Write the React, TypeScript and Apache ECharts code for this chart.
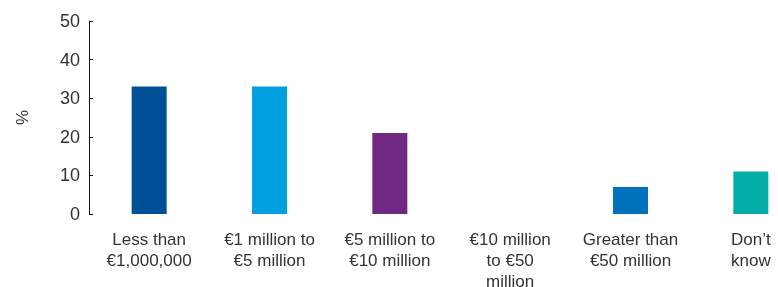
import React, { useEffect, useRef } from "react";
import * as echarts from "echarts";

const categories = [
  "Less than\n€1,000,000",
  "€1 million to\n€5 million",
  "€5 million to\n€10 million",
  "€10 million\nto €50\nmillion",
  "Greater than\n€50 million",
  "Don’t\nknow",
];
const values = [33, 33, 21, 0, 7, 11];
const barColors = ["#005098", "#009FDF", "#702882", "#0072BC", "#0072BC", "#00AEA7"];
const yTicks = [0, 10, 20, 30, 40, 50];

export default function App() {
  const ref = useRef<HTMLDivElement>(null);
  useEffect(() => {
    if (!ref.current) return;
    const chart = echarts.init(ref.current, null, { renderer: "svg" });
    chart.setOption({
      animation: false,
      textStyle: { fontFamily: "Liberation Sans, Arial, sans-serif" },
      grid: {
        left: 89,
        top: 21,
        width: 722,
        height: 193,
        containLabel: false,
        outerBoundsMode: "none",
      },
      xAxis: {
        type: "category",
        data: categories,
        axisLine: { show: false },
        axisTick: { show: false },
        axisLabel: {
          color: "#333",
          fontSize: 17,
          lineHeight: 21,
          margin: 15,
          interval: 0,
        },
      },
      yAxis: {
        type: "value",
        min: yTicks[0],
        max: yTicks[yTicks.length - 1],
        interval: 10,
        name: "%",
        nameLocation: "middle",
        nameGap: 58,
        nameTextStyle: { color: "#333", fontSize: 17 },
        splitLine: { show: false },
        axisLine: { show: true, lineStyle: { color: "#111", width: 1 } },
        axisTick: { show: true, inside: true, length: 4, lineStyle: { color: "#111" } },
        axisLabel: { color: "#333", fontSize: 18, margin: 9 },
      },
      series: [
        {
          type: "bar",
          barWidth: 35,
          data: values.map((v, i) => ({ value: v, itemStyle: { color: barColors[i] } })),
        },
      ],
    });
    return () => chart.dispose();
  }, []);
  return (
    <div style={{ position: "fixed", left: 0, top: 0, width: 778, height: 287, overflow: "hidden" }}>
      <div ref={ref} style={{ width: 840, height: 287 }} />
    </div>
  );
}
